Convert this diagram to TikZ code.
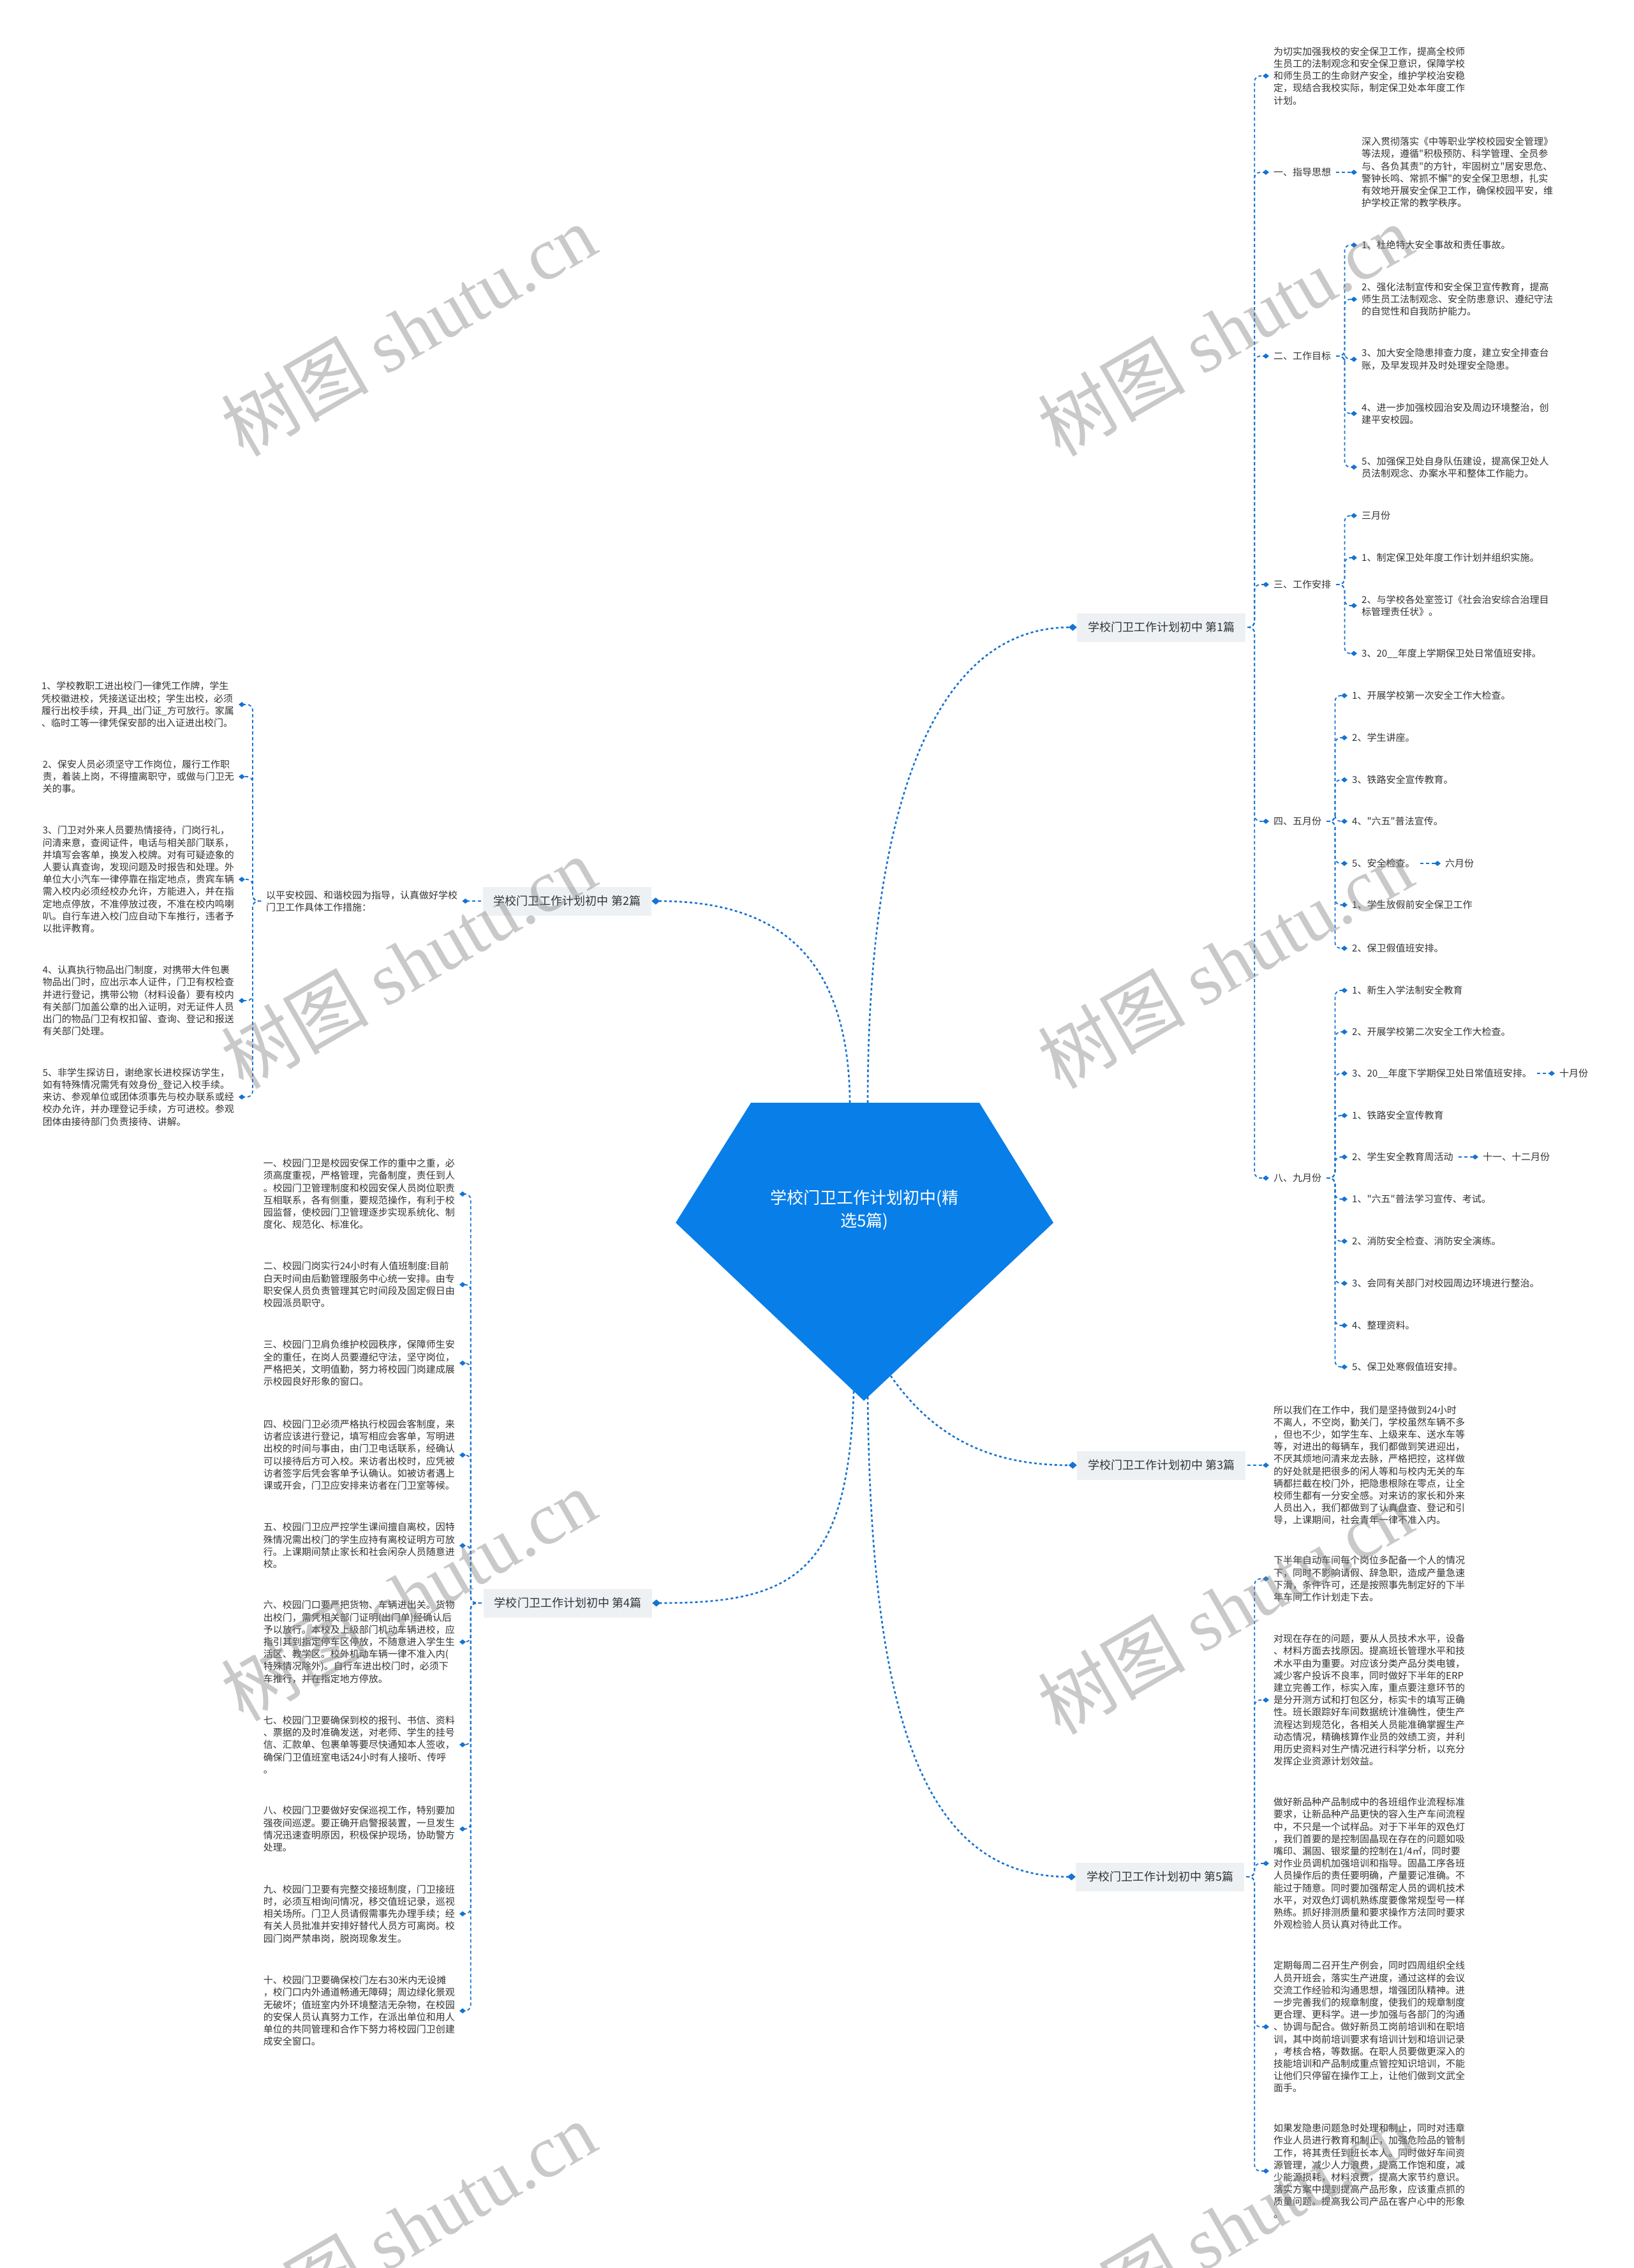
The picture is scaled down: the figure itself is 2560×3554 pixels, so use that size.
\documentclass[tikz,border=0pt]{standalone}
\usepackage{fontspec}
\setmainfont{Noto Sans CJK SC}[Ligatures=TeXOff]
\newfontfamily\wmserif{Liberation Serif}
\usetikzlibrary{arrows.meta}
\definecolor{hubblue}{RGB}{8,126,232}
\definecolor{linkblue}{RGB}{22,115,210}
\definecolor{tagfill}{RGB}{238,241,244}
\definecolor{inkgray}{RGB}{51,51,51}
\tikzset{
  hubln/.style={draw=linkblue, line width=2.6pt, dash pattern=on 4pt off 4pt,
    -{Diamond[length=13pt,width=11pt]}},
  twig/.style={draw=linkblue, line width=1.8pt, dash pattern=on 5pt off 4pt,
    rounded corners=9pt, shorten <=8pt, shorten >=7pt, -{Diamond[length=10pt,width=8pt]}},
  topic/.style={fill=tagfill, minimum width=264pt, minimum height=45pt, inner sep=0pt,
    text=inkgray, font=\fontsize{18}{22}\selectfont},
  hubtext/.style={text=white, align=center, font=\fontsize{26}{36}\selectfont},
  para/.style={anchor=west, inner sep=0pt, align=left, text=inkgray,
    font=\fontsize{15}{19.2}\selectfont},
  lpara/.style={para, anchor=east},
}
\tikzset{wmark/.style={rotate=30, text=gray, text opacity=0.42,
  font=\fontsize{116}{116}\selectfont}}

\begin{document}
\begin{tikzpicture}[x=1pt,y=-1pt]
  \useasboundingbox (0,0) rectangle (2560,3554);
  \fill[white] (0,0) rectangle (2560,3554);

  % ----- hub -----
  \fill[hubblue] (1177,1728) -- (1535,1728) -- (1651,1916) -- (1354,2195) -- (1059,1916) -- cycle;
  \node[hubtext] (hub) at (1355,1896) {学校门卫工作计划初中(精\\选5篇)};
  \coordinate (hubNE) at (1360,1728);
  \coordinate (hubNW) at (1332,1728);
  \coordinate (hubSE) at (1396,2156);
  \coordinate (hubS) at (1360,2189);
  \coordinate (hubSW) at (1338,2180);

  % ----- plan 1 (right, top) -----
  \node[topic] (p1) at (1820,983) {学校门卫工作计划初中 第1篇};
  \node[para] (p1intro) at (1996,119) {为切实加强我校的安全保卫工作，提高全校师\\生员工的法制观念和安全保卫意识，保障学校\\和师生员工的生命财产安全，维护学校治安稳\\定，现结合我校实际，制定保卫处本年度工作\\计划。};
  \node[para] (p1guide) at (1996,270) {一、指导思想};
  \node[para] (p1guidetxt) at (2134,270) {深入贯彻落实《中等职业学校校园安全管理》\\等法规，遵循"积极预防、科学管理、全员参\\与、各负其责"的方针，牢固树立"居安思危、\\警钟长鸣、常抓不懈"的安全保卫思想，扎实\\有效地开展安全保卫工作，确保校园平安，维\\护学校正常的教学秩序。};
  \node[para] (p1goal) at (1996,558) {二、工作目标};
  \node[para] (p1g1) at (2134,384) {1、杜绝特大安全事故和责任事故。};
  \node[para] (p1g2) at (2134,469) {2、强化法制宣传和安全保卫宣传教育，提高\\师生员工法制观念、安全防患意识、遵纪守法\\的自觉性和自我防护能力。};
  \node[para] (p1g3) at (2134,563) {3、加大安全隐患排查力度，建立安全排查台\\账，及早发现并及时处理安全隐患。};
  \node[para] (p1g4) at (2134,648) {4、进一步加强校园治安及周边环境整治，创\\建平安校园。};
  \node[para] (p1g5) at (2134,732) {5、加强保卫处自身队伍建设，提高保卫处人\\员法制观念、办案水平和整体工作能力。};
  \node[para] (p1plan) at (1996,916) {三、工作安排};
  \node[para] (p1pl1) at (2134,808) {三月份};
  \node[para] (p1pl2) at (2134,874) {1、制定保卫处年度工作计划并组织实施。};
  \node[para] (p1pl3) at (2134,949) {2、与学校各处室签订《社会治安综合治理目\\标管理责任状》。};
  \node[para] (p1pl4) at (2134,1024) {3、20\_\_年度上学期保卫处日常值班安排。};
  \node[para] (p1may) at (1996,1287) {四、五月份};
  \node[para] (p1m1) at (2119,1090) {1、开展学校第一次安全工作大检查。};
  \node[para] (p1m2) at (2119,1156) {2、学生讲座。};
  \node[para] (p1m3) at (2119,1222) {3、铁路安全宣传教育。};
  \node[para] (p1m4) at (2119,1287) {4、"六五"普法宣传。};
  \node[para] (p1m5) at (2119,1353) {5、安全检查。};
  \node[para] (p1m6) at (2119,1418) {1、学生放假前安全保卫工作};
  \node[para] (p1m7) at (2119,1486) {2、保卫假值班安排。};
  \node[para] (p1june) at (2265,1353) {六月份};
  \node[para] (p1aug) at (1996,1846) {八、九月份};
  \node[para] (p1a1) at (2119,1552) {1、新生入学法制安全教育};
  \node[para] (p1a2) at (2119,1617) {2、开展学校第二次安全工作大检查。};
  \node[para] (p1a3) at (2119,1682) {3、20\_\_年度下学期保卫处日常值班安排。};
  \node[para] (p1a4) at (2119,1748) {1、铁路安全宣传教育};
  \node[para] (p1a5) at (2119,1813) {2、学生安全教育周活动};
  \node[para] (p1a6) at (2119,1879) {1、"六五"普法学习宣传、考试。};
  \node[para] (p1a7) at (2119,1945) {2、消防安全检查、消防安全演练。};
  \node[para] (p1a8) at (2119,2011) {3、会同有关部门对校园周边环境进行整治。};
  \node[para] (p1a9) at (2119,2077) {4、整理资料。};
  \node[para] (p1a10) at (2119,2142) {5、保卫处寒假值班安排。};
  \node[para] (p1oct) at (2444,1682) {十月份};
  \node[para] (p1nov) at (2324,1813) {十一、十二月份};

  \foreach \c in {p1intro,p1guide,p1goal,p1plan,p1may,p1aug}
    \draw[twig, shorten <=3pt] (p1.east) -- ++(14,0) |- (\c.west);
  \draw[twig] (p1guide.east) -- (p1guidetxt.west);
  \foreach \c in {p1g1,p1g2,p1g3,p1g4,p1g5}
    \draw[twig] (p1goal.east) -- ++(21,0) |- (\c.west);
  \foreach \c in {p1pl1,p1pl2,p1pl3,p1pl4}
    \draw[twig] (p1plan.east) -- ++(21,0) |- (\c.west);
  \foreach \c in {p1m1,p1m2,p1m3,p1m4,p1m5,p1m6,p1m7}
    \draw[twig] (p1may.east) -- ++(21,0) |- (\c.west);
  \foreach \c in {p1a1,p1a2,p1a3,p1a4,p1a5,p1a6,p1a7,p1a8,p1a9,p1a10}
    \draw[twig] (p1aug.east) -- ++(21,0) |- (\c.west);
  \draw[twig] (p1m5.east) -- (p1june.west);
  \draw[twig] (p1a3.east) -- (p1oct.west);
  \draw[twig] (p1a5.east) -- (p1nov.west);

  % ----- plan 2 (left, top) -----
  \node[topic] (p2) at (889,1412) {学校门卫工作计划初中 第2篇};
  \node[para] (p2intro) at (417,1412) {以平安校园、和谐校园为指导，认真做好学校\\门卫工作具体工作措施：};
  \node[lpara] (p2c1) at (367,1104) {1、学校教职工进出校门一律凭工作牌，学生\\凭校徽进校，凭接送证出校；学生出校，必须\\履行出校手续，开具\_出门证\_方可放行。家属\\、临时工等一律凭保安部的出入证进出校门。};
  \node[lpara] (p2c2) at (367,1217) {2、保安人员必须坚守工作岗位，履行工作职\\责，着装上岗，不得擅离职守，或做与门卫无\\关的事。};
  \node[lpara] (p2c3) at (367,1378) {3、门卫对外来人员要热情接待，门岗行礼，\\问清来意，查阅证件，电话与相关部门联系，\\并填写会客单，换发入校牌。对有可疑迹象的\\人要认真查询，发现问题及时报告和处理。外\\单位大小汽车一律停靠在指定地点，贵宾车辆\\需入校内必须经校办允许，方能进入，并在指\\定地点停放，不准停放过夜，不准在校内鸣喇\\叭。自行车进入校门应自动下车推行，违者予\\以批评教育。};
  \node[lpara] (p2c4) at (367,1568) {4、认真执行物品出门制度，对携带大件包裹\\物品出门时，应出示本人证件，门卫有权检查\\并进行登记，携带公物（材料设备）要有校内\\有关部门加盖公章的出入证明，对无证件人员\\出门的物品门卫有权扣留、查询、登记和报送\\有关部门处理。};
  \node[lpara] (p2c5) at (367,1719) {5、非学生探访日，谢绝家长进校探访学生，\\如有特殊情况需凭有效身份\_登记入校手续。\\来访、参观单位或团体须事先与校办联系或经\\校办允许，并办理登记手续，方可进校。参观\\团体由接待部门负责接待、讲解。};

  \draw[twig, shorten <=3pt] (p2.west) -- (p2intro.east);
  \foreach \c in {p2c1,p2c2,p2c3,p2c4,p2c5}
    \draw[twig] (p2intro.west) -- ++(-21,0) |- (\c.east);

  % ----- plan 3 (right, middle) -----
  \node[topic] (p3) at (1820,2296) {学校门卫工作计划初中 第3篇};
  \node[para] (p3txt) at (1996,2296) {所以我们在工作中，我们是坚持做到24小时\\不离人，不空岗，勤关门，学校虽然车辆不多\\，但也不少，如学生车、上级来车、送水车等\\等，对进出的每辆车，我们都做到笑进迎出，\\不厌其烦地问清来龙去脉，严格把控，这样做\\的好处就是把很多的闲人等和与校内无关的车\\辆都拦截在校门外，把隐患根除在零点，让全\\校师生都有一分安全感。对来访的家长和外来\\人员出入，我们都做到了认真盘查、登记和引\\导，上课期间，社会青年一律不准入内。};
  \draw[twig, shorten <=3pt] (p3.east) -- (p3txt.west);

  % ----- plan 4 (left, bottom) -----
  \node[topic] (p4) at (890,2512) {学校门卫工作计划初中 第4篇};
  \node[lpara] (p4c1) at (713,1871) {一、校园门卫是校园安保工作的重中之重，必\\须高度重视，严格管理，完备制度，责任到人\\。校园门卫管理制度和校园安保人员岗位职责\\互相联系，各有侧重，要规范操作，有利于校\\园监督，使校园门卫管理逐步实现系统化、制\\度化、规范化、标准化。};
  \node[lpara] (p4c2) at (713,2013) {二、校园门岗实行24小时有人值班制度:目前\\白天时间由后勤管理服务中心统一安排。由专\\职安保人员负责管理其它时间段及固定假日由\\校园派员职守。};
  \node[lpara] (p4c3) at (713,2136) {三、校园门卫肩负维护校园秩序，保障师生安\\全的重任，在岗人员要遵纪守法，坚守岗位，\\严格把关，文明值勤，努力将校园门岗建成展\\示校园良好形象的窗口。};
  \node[lpara] (p4c4) at (713,2280) {四、校园门卫必须严格执行校园会客制度，来\\访者应该进行登记，填写相应会客单，写明进\\出校的时间与事由，由门卫电话联系，经确认\\可以接待后方可入校。来访者出校时，应凭被\\访者签字后凭会客单予认确认。如被访者遇上\\课或开会，门卫应安排来访者在门卫室等候。};
  \node[lpara] (p4c5) at (713,2422) {五、校园门卫应严控学生课间擅自离校，因特\\殊情况需出校门的学生应持有离校证明方可放\\行。上课期间禁止家长和社会闲杂人员随意进\\校。};
  \node[lpara] (p4c6) at (713,2573) {六、校园门口要严把货物、车辆进出关。货物\\出校门，需凭相关部门证明(出门单)经确认后\\予以放行。本校及上级部门机动车辆进校，应\\指引其到指定停车区停放，不随意进入学生生\\活区、教学区。校外机动车辆一律不准入内(\\特殊情况除外)。自行车进出校门时，必须下\\车推行，并在指定地方停放。};
  \node[lpara] (p4c7) at (713,2734) {七、校园门卫要确保到校的报刊、书信、资料\\、票据的及时准确发送，对老师、学生的挂号\\信、汇款单、包裹单等要尽快通知本人签收，\\确保门卫值班室电话24小时有人接听、传呼\\。};
  \node[lpara] (p4c8) at (713,2866) {八、校园门卫要做好安保巡视工作，特别要加\\强夜间巡逻。要正确开启警报装置，一旦发生\\情况迅速查明原因，积极保护现场，协助警方\\处理。};
  \node[lpara] (p4c9) at (713,2999) {九、校园门卫要有完整交接班制度，门卫接班\\时，必须互相询问情况，移交值班记录，巡视\\相关场所。门卫人员请假需事先办理手续；经\\有关人员批准并安排好替代人员方可离岗。校\\园门岗严禁串岗，脱岗现象发生。};
  \node[lpara] (p4c10) at (713,3151) {十、校园门卫要确保校门左右30米内无设摊\\，校门口内外通道畅通无障碍；周边绿化景观\\无破坏；值班室内外环境整洁无杂物，在校园\\的安保人员认真努力工作，在派出单位和用人\\单位的共同管理和合作下努力将校园门卫创建\\成安全窗口。};

  \foreach \c in {p4c1,p4c2,p4c3,p4c4,p4c5,p4c6,p4c7,p4c8,p4c9,p4c10}
    \draw[twig, shorten <=3pt] (p4.west) -- ++(-20,0) |- (\c.east);

  % ----- plan 5 (right, bottom) -----
  \node[topic] (p5) at (1818,2941) {学校门卫工作计划初中 第5篇};
  \node[para] (p5c1) at (1996,2474) {下半年自动车间每个岗位多配备一个人的情况\\下，同时不影响请假、辞急职，造成产量急速\\下滑，条件许可，还是按照事先制定好的下半\\年车间工作计划走下去。};
  \node[para] (p5c2) at (1996,2664) {对现在存在的问题，要从人员技术水平，设备\\、材料方面去找原因。提高班长管理水平和技\\术水平由为重要。对应该分类产品分类电镀，\\减少客户投诉不良率，同时做好下半年的ERP\\建立完善工作，标实入库，重点要注意环节的\\是分开测方试和打包区分，标实卡的填写正确\\性。班长跟踪好车间数据统计准确性，使生产\\流程达到规范化，各相关人员能准确掌握生产\\动态情况，精确核算作业员的效绩工资，并利\\用历史资料对生产情况进行科学分析，以充分\\发挥企业资源计划效益。};
  \node[para] (p5c3) at (1996,2920) {做好新品种产品制成中的各班组作业流程标准\\要求，让新品种产品更快的容入生产车间流程\\中，不只是一个试样品。对于下半年的双色灯\\，我们首要的是控制固晶现在存在的问题如吸\\嘴印、漏固、银浆量的控制在1/4㎡，同时要\\对作业员调机加强培训和指导。固晶工序各班\\人员操作后的责任要明确，产量要记准确。不\\能过于随意。同时要加强帮定人员的调机技术\\水平，对双色灯调机熟练度要像常规型号一样\\熟练。抓好排测质量和要求操作方法同时要求\\外观检验人员认真对待此工作。};
  \node[para] (p5c4) at (1996,3176) {定期每周二召开生产例会，同时四周组织全线\\人员开班会，落实生产进度，通过这样的会议\\交流工作经验和沟通思想，增强团队精神。进\\一步完善我们的规章制度，使我们的规章制度\\更合理、更科学。进一步加强与各部门的沟通\\、协调与配合。做好新员工岗前培训和在职培\\训，其中岗前培训要求有培训计划和培训记录\\，考核合格，等数据。在职人员要做更深入的\\技能培训和产品制成重点管控知识培训，不能\\让他们只停留在操作工上，让他们做到文武全\\面手。};
  \node[para] (p5c5) at (1996,3402) {如果发隐患问题急时处理和制止，同时对违章\\作业人员进行教育和制止，加强危险品的管制\\工作，将其责任到班长本人。同时做好车间资\\源管理，减少人力浪费，提高工作饱和度，减\\少能源损耗，材料浪费，提高大家节约意识。\\落实方案中提到提高产品形象，应该重点抓的\\质量问题。提高我公司产品在客户心中的形象\\。};

  \foreach \c in {p5c1,p5c2,p5c3,p5c4,p5c5}
    \draw[twig, shorten <=3pt] (p5.east) -- ++(16,0) |- (\c.west);

  % ----- hub to plans -----
  \draw[hubln] (hubNE) .. controls (1360,1300) and (1450,983) .. (p1.west);
  \draw[hubln] (hubNW) .. controls (1330,1480) and (1200,1412) .. (p2.east);
  \draw[hubln] (hubSE) to[out=-55,in=180] (p3.west);
  \draw[hubln] (hubSW) .. controls (1330,2470) and (1240,2512) .. (p4.east);
  \draw[hubln] (hubS) .. controls (1365,2700) and (1450,2941) .. (p5.west);

  % ----- watermark -----
  \node[wmark] (wm1) at (640,517) {树图 {\wmserif shutu.cn}};
  \node[wmark] (wm2) at (1920,517) {树图 {\wmserif shutu.cn}};
  \node[wmark] (wm3) at (640,1508) {树图 {\wmserif shutu.cn}};
  \node[wmark] (wm4) at (1920,1508) {树图 {\wmserif shutu.cn}};
  \node[wmark] (wm5) at (640,2499) {树图 {\wmserif shutu.cn}};
  \node[wmark] (wm6) at (1920,2520) {树图 {\wmserif shutu.cn}};
  \node[wmark] (wm7) at (640,3490) {树图 {\wmserif shutu.cn}};
  \node[wmark] (wm8) at (1920,3490) {树图 {\wmserif shutu.cn}};
\end{tikzpicture}
\end{document}
